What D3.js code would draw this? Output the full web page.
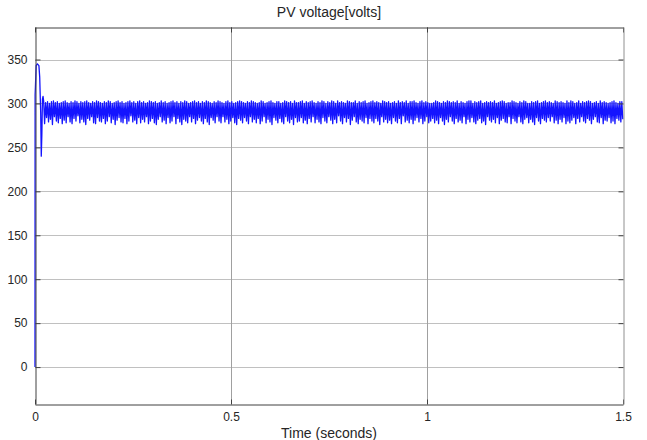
<!DOCTYPE html>
<html>
<head>
<meta charset="utf-8">
<script src="https://cdn.jsdelivr.net/npm/d3@7"></script>
<style>
  body { margin: 0; background: #fff; }
  text { font-family: "Liberation Sans", Arial, sans-serif; fill: #262626; }
</style>
</head>
<body>
<div class="chart"></div>
<script>
// start-up transient [time, volts]
const startTimes = [0, 0.0003, 0.001, 0.003, 0.006, 0.010, 0.012, 0.0145, 0.016, 0.0175, 0.019, 0.0205]
const startVolts = [0, 310, 318, 343, 345, 343, 330, 290, 240, 265, 305, 308]

// steady ripple: one high and one low per cycle
const rippleStart = 0.022
const ripplePeriod = 0.005
const rippleHighs = [
  303,301,302,300,302,303,301,302,300,301,
  302,303,301,300,302,301,303,302,300,302,
  301,302,303,301,300,302,301,303,302,301,
  300,302,301,303,302,300,301,302,303,301,
  302,300,301,302,303,301,302,300,302,303,
  301,302,300,301,303,302,301,302,300,301,
  303,301,302,300,301,302,303,301,302,300,
  302,301,303,302,300,301,302,303,301,302,
  300,302,301,303,302,301,300,302,301,303,
  302,301,300,302,303,301,302,300,301,302,
  303,302,301,300,302,301,303,302,301,300,
  301,303,302,300,301,302,303,301,300,302,
  302,300,301,303,302,301,302,300,303,301,
  301,302,303,300,302,301,302,303,301,300,
  302,301,303,302,300,302,301,303,
  302,300,303,301,302,301,300,303,302,301,
  301,303,300,302,301,302,303,300,301,302,
  303,301,302,301,300,303,302,301,302,300,
  301,302,300,303,301,302,301,303,300,302,
  302,303,301,300,302,303,301,302,301,300,
  300,301,303,302,301,300,302,301,303,302,
  301,302,301,303,300,302,301,300,302,303,
  303,300,302,301,302,303,300,301,302,301,
  302,301,303,300,301,302,303,302,300,301,
  301,303,302,301,300,302,301,303,302,300,
  300,302,301,302,303,300,301,302,303,301,
  302,301,300,303,302,301,302,301,300,303,
  301,303,302,300,301,303,300,302,301,302,
  303,302,300,301,302,300,303,301,302,301,
  300,301,302,303,301,300,302,302
]
const rippleLows = [
  277,284,279,282,276,285,280,278,283,277,
  281,278,285,279,277,283,280,286,278,282,
  279,276,283,281,285,278,277,284,280,279,
  283,277,280,285,278,282,276,281,284,279,
  278,283,277,280,286,279,281,277,284,278,
  282,279,285,277,280,283,278,276,282,285,
  279,281,277,284,278,280,285,277,283,279,
  276,282,280,278,285,279,283,277,281,284,
  280,277,283,279,276,284,281,278,285,280,
  278,285,279,282,277,280,284,278,276,283,
  281,278,284,280,277,285,279,282,278,283,
  277,280,285,278,282,279,276,284,281,278,
  283,279,277,285,280,278,282,276,284,279,
  280,284,278,281,277,283,279,285,278,282,
  279,277,284,280,278,285,281,277,
  282,278,286,280,277,284,279,283,276,281,
  285,279,277,282,280,278,284,277,283,280,
  278,283,280,276,285,279,282,278,281,277,
  284,280,278,283,277,286,279,281,278,282,
  277,281,284,279,283,277,280,285,278,280,
  283,278,281,277,284,280,276,282,279,285,
  280,277,283,279,281,278,285,277,282,279,
  284,279,277,281,283,278,280,276,285,281,
  279,282,278,284,277,281,283,279,278,285,
  277,283,280,278,285,279,277,282,284,278,
  282,279,276,284,280,277,283,281,279,284,
  280,285,278,281,277,282,279,284,277,280,
  278,281,284,277,283,279,285,280,278,283,
  281,277,282,285,279,278,284,277,281,280,
  284,278,280,277,283,281,279,282
]

const xTicks = [0, 0.5, 1, 1.5]
const xTickLabels = ["0", "0.5", "1", "1.5"]
const yTicks = [0, 50, 100, 150, 200, 250, 300, 350]

const width = 647
const height = 440
const margin = { top: 27, right: 24, bottom: 36, left: 35 }

// build the series
const data = startTimes.map((t, i) => ({ t, v: startVolts[i] }))
rippleHighs.forEach((h, k) => {
  const t0 = rippleStart + k * ripplePeriod
  data.push({ t: t0, v: h })
  data.push({ t: Math.min(t0 + ripplePeriod / 2, 1.5), v: rippleLows[k] })
})

const xScale = d3.scaleLinear()
  .domain([0, 1.5])
  .range([margin.left, width - margin.right])

const yScale = d3.scaleLinear()
  .domain([-42, 387])
  .range([height - margin.bottom, margin.top])

const svg = d3.select(".chart")
  .append("svg")
  .attr("width", width)
  .attr("height", height)

const x0 = margin.left, x1 = width - margin.right
const y0 = height - margin.bottom, y1 = margin.top

// grid
svg.append("g")
  .selectAll("line")
  .data(yTicks)
  .join("line")
  .attr("x1", x0).attr("x2", x1)
  .attr("y1", d => Math.round(yScale(d)) + 0.5)
  .attr("y2", d => Math.round(yScale(d)) + 0.5)
  .attr("stroke", "#c0c0c0")

svg.append("g")
  .selectAll("line")
  .data(xTicks.slice(1, -1))
  .join("line")
  .attr("x1", d => Math.round(xScale(d)) + 0.5)
  .attr("x2", d => Math.round(xScale(d)) + 0.5)
  .attr("y1", y0).attr("y2", y1)
  .attr("stroke", "#a0a0a0")

// signal
const line = d3.line()
  .x(d => xScale(d.t))
  .y(d => yScale(d.v))

svg.append("path")
  .datum(data)
  .attr("fill", "none")
  .attr("stroke", "#1414ff")
  .attr("stroke-width", 1.3)
  .attr("stroke-linejoin", "round")
  .attr("d", line)

// axes (ticks inward)
const xAxis = d3.axisBottom(xScale).tickValues(xTicks)
  .tickFormat((d, i) => xTickLabels[i]).tickSizeInner(-5).tickSizeOuter(0).tickPadding(8)
const yAxis = d3.axisLeft(yScale).tickValues(yTicks)
  .tickSizeInner(-5).tickSizeOuter(0).tickPadding(8)

svg.append("g")
  .attr("transform", `translate(0,${y0 + 0.5})`)
  .call(xAxis)
  .call(g => g.select(".domain").attr("stroke", "#404040"))
  .call(g => g.selectAll(".tick line").attr("stroke", "#404040"))
  .call(g => g.selectAll("text").attr("font-size", 12).attr("fill", "#262626"))

svg.append("g")
  .attr("transform", `translate(${x0 + 0.5},0)`)
  .call(yAxis)
  .call(g => g.select(".domain").attr("stroke", "#404040"))
  .call(g => g.selectAll(".tick line").attr("stroke", "#404040"))
  .call(g => g.selectAll("text").attr("font-size", 12).attr("fill", "#262626"))

svg.append("g")
  .attr("transform", `translate(0,${y1 + 0.5})`)
  .call(d3.axisTop(xScale).tickValues(xTicks).tickFormat("").tickSizeInner(-5).tickSizeOuter(0))
  .call(g => g.select(".domain").attr("stroke", "#404040"))
  .call(g => g.selectAll(".tick line").attr("stroke", "#404040"))

svg.append("g")
  .attr("transform", `translate(${x1 + 0.5},0)`)
  .call(d3.axisRight(yScale).tickValues(yTicks).tickFormat("").tickSizeInner(-5).tickSizeOuter(0))
  .call(g => g.select(".domain").attr("stroke", "#909090"))
  .call(g => g.selectAll(".tick line").attr("stroke", "#404040"))

// labels
svg.append("text")
  .attr("x", (x0 + x1) / 2)
  .attr("y", 17)
  .attr("text-anchor", "middle")
  .attr("font-size", 14)
  .text("PV voltage[volts]")

svg.append("text")
  .attr("x", (x0 + x1) / 2)
  .attr("y", 438)
  .attr("text-anchor", "middle")
  .attr("font-size", 14)
  .text("Time (seconds)")
</script>
</body>
</html>
